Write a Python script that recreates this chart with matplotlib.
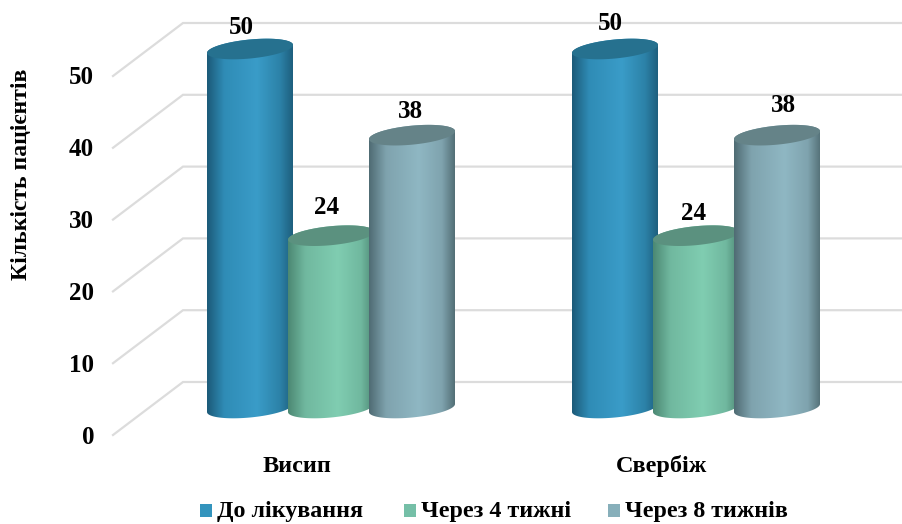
import numpy as np
import matplotlib
matplotlib.use('Agg')
import matplotlib.pyplot as plt
from matplotlib.colors import LinearSegmentedColormap
from matplotlib.patches import Polygon, Rectangle

plt.rcParams['font.family'] = ['Liberation Serif', 'DejaVu Serif']
plt.rcParams['font.weight'] = 'bold'

categories = ['Висип', 'Свербіж']
series_names = ['До лікування', 'Через 4 тижні', 'Через 8 тижнів']
before = [50, 50]
week4 = [24, 24]
week8 = [38, 38]
axis_ticks = [0, 10, 20, 30, 40, 50]

# side shading of every cylinder from left to right, then lid and legend colours
blue = ['#1c5a78', '#2f8cb6', '#3a9cc8', '#2c82a8', '#1e5f7e', '#26718f', '#3394bd']
green = ['#4c8873', '#70b89f', '#80cdb1', '#70b89f', '#4f8a76', '#5b917f', '#75bfa7']
grey = ['#4f6b73', '#7fa3ae', '#8fb7c3', '#7fa3ae', '#536f76', '#658388', '#87afba']
shade_stops = [0, 0.2, 0.58, 0.85, 1]

W, H = 902, 524
X0, STEP = 331.0, 365.0    # pixel of first group centre, pixels between groups
Y0, SCALE = 408.0, 7.18    # pixel of value 0, pixels per unit


def dx(px):
    return px / STEP


def dy(px):
    return px / SCALE


def xp(px):
    return dx(px - X0)


def yp(py):
    return dy(Y0 - py)


def cylinder(ax, x, value, colors, zorder):
    # shaded cylinder: gradient image clipped to side outline, then the lid
    a, b, s = dx(43), dy(9.5), dy(4)
    t = np.linspace(0, np.pi, 80)
    # lower half of the base ellipse, left to right
    bx = x - a * np.cos(t)
    by = -b * np.sin(t) - s * np.cos(t)
    # upper half of the lid ellipse, right to left
    tx = x + a * np.cos(t)
    ty = value + b * np.sin(t) + s * np.cos(t)
    side = np.column_stack([np.r_[bx, tx], np.r_[by, ty]])
    cmap = LinearSegmentedColormap.from_list('side', list(zip(shade_stops, colors[:5])))
    im = ax.imshow(np.linspace(0, 1, 256).reshape(1, -1), cmap=cmap, aspect='auto',
                   extent=[x - a, x + a, -b - s, value + b + s], zorder=zorder,
                   interpolation='bilinear')
    patch = Polygon(side, closed=True, transform=ax.transData, fc='none', ec='none')
    ax.add_patch(patch)
    im.set_clip_path(patch)
    t2 = np.linspace(0, 2 * np.pi, 160)
    lid = np.column_stack([x + a * np.cos(t2), value + b * np.sin(t2) + s * np.cos(t2)])
    ax.add_patch(Polygon(lid, closed=True, fc=colors[5], ec='none', zorder=zorder + 0.1))


fig = plt.figure(figsize=(W / 100, H / 100), dpi=100)
ax = fig.add_axes([0, 0, 1, 1])
ax.axis('off')
xlim = (xp(0), xp(W))
ylim = (yp(H), yp(0))

# back wall lines with their slanted returns to the front edge
for v in axis_ticks:
    ax.plot([xp(113), xp(183), xp(W)], [v - dy(27), v + dy(26), v + dy(26)],
            color='#dcdcdc', lw=1.6, solid_joinstyle='miter', zorder=1)
    ax.text(xp(94), v - dy(27) + dy(-2), str(v), ha='right', va='center', fontsize=18)

offsets = [-81, 0, 81]
values = [before, week4, week8]
colors = [blue, green, grey]
for i, cat in enumerate(categories):
    for j in range(3):
        cylinder(ax, i + dx(offsets[j]), values[j][i], colors[j], zorder=3 + j)
    ax.text(i + dx(-34), yp(466), cat, ha='center', va='center', fontsize=17.5)

ax.text(xp(21), yp(174), 'Кількість пацієнтів', rotation=90, ha='center',
        va='center', fontsize=17)

# value labels sit at their own spots above the lids
positions = [[(241, 27), (327, 208), (410, 112)], [(610, 23), (694, 213), (783, 105)]]
for i in range(2):
    for j in range(3):
        px, py = positions[i][j]
        ax.text(xp(px), yp(py), str(values[j][i]), ha='center', va='center',
                fontsize=18, zorder=10)

# legend row
legend_x = [200, 404, 608]
for x_px, name, col in zip(legend_x, series_names, colors):
    ax.add_patch(Rectangle((xp(x_px), yp(517)), dx(12), dy(13), fc=col[6], ec='none'))
    ax.text(xp(x_px + 17), yp(512), name, ha='left', va='center', fontsize=17.3)

ax.set_xlim(xlim)
ax.set_ylim(ylim)
fig.savefig('out.png', dpi=100)
